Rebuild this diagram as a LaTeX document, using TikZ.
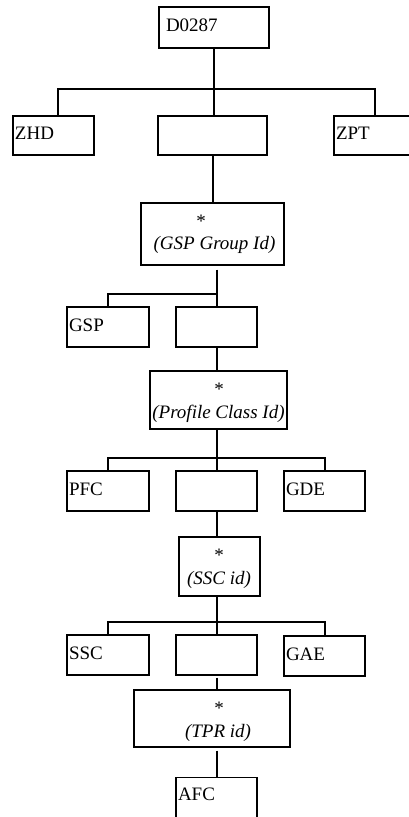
\documentclass[tikz,border=0pt]{standalone}
\usepackage{fontspec}
\setmainfont{Liberation Serif}
\begin{document}
\begin{tikzpicture}[
  x=1pt, y=-1pt,
  font=\fontsize{19}{22}\selectfont,
  box/.style={draw, line width=1.2pt, inner xsep=2pt, inner ysep=0pt, text height=12pt, text depth=4pt, align=left, text width=#1, minimum height=40pt},
  txt/.style={inner sep=0pt, anchor=base},
  link/.style={line width=2pt}
]
\useasboundingbox (0,0) rectangle (409,817);
\clip (0,0) rectangle (409,817);
\coordinate (bus1) at (0,89);
\coordinate (bus2) at (0,294);
\coordinate (bus3) at (0,458);
\coordinate (bus4) at (0,622);
\node[box=96pt, inner xsep=7pt, minimum height=41pt] (d0287) at (214,27.5) {D0287};
\node[box=77pt, minimum height=39pt] (zhd) at (53.5,135.5) {ZHD};
\node[box=105pt, minimum height=39pt] (mid1) at (212.5,135.5) {};
\node[box=77pt, minimum height=39pt] (zpt) at (374.5,135.5) {ZPT};
\node[box=139pt, minimum height=62pt] (gspg) at (212.5,234) {};
\node[txt] (gspg-star) at (201,227) {*};
\node[txt] (gspg-id) at (214.5,249) {\textit{(GSP Group Id)}};
\node[box=78pt] (gsp) at (108,327) {GSP};
\node[box=77pt] (mid2) at (216.5,327) {};
\node[box=133pt, minimum height=58pt] (prof) at (218.5,400) {};
\node[txt] (prof-star) at (219,395) {*};
\node[txt] (prof-id) at (218.5,418) {\textit{(Profile Class Id)}};
\node[box=78pt] (pfc) at (108,491) {PFC};
\node[box=77pt] (mid3) at (216.5,491) {};
\node[box=77pt] (gde) at (324.5,491) {GDE};
\node[box=77pt, minimum height=59pt] (sscid) at (219.5,566.5) {};
\node[txt] (sscid-star) at (219,561) {*};
\node[txt] (sscid-id) at (219,584) {\textit{(SSC id)}};
\node[box=78pt] (ssc) at (108,655) {SSC};
\node[box=77pt] (mid4) at (216.5,655) {};
\node[box=77pt] (gae) at (324.5,656) {GAE};
\node[box=152pt, minimum height=57pt] (tpr) at (212,718.5) {};
\node[txt] (tpr-star) at (219,714) {*};
\node[txt] (tpr-id) at (218,737) {\textit{(TPR id)}};
\node[box=77pt, anchor=north, text height=23pt, text depth=40pt] (afc) at (216.5,777) {AFC};
\draw[link] (d0287) -- (d0287 |- mid1.north);
\draw[link] ([xshift=4.5pt]zhd.north) |- (bus1 -| zpt.north) -- (zpt.north);
\draw[link] (mid1) -- (gspg);
\draw[link, shorten <=4pt] (gspg.south -| mid2.north) -- (mid2.north);
\draw[link] (gsp.north) |- (bus2 -| mid2.north);
\draw[link] (mid2.south) -- (mid2.south |- prof.north);
\draw[link] (prof.south -| mid3.north) -- (mid3.north);
\draw[link] (pfc.north) |- (bus3 -| gde.north) -- (gde.north);
\draw[link] (mid3.south) -- (mid3.south |- sscid.north);
\draw[link] (sscid.south -| mid4.north) -- (mid4.north);
\draw[link] (ssc.north) |- (bus4 -| gae.north) -- (gae.north);
\draw[link, shorten <=2pt] (mid4.south) -- (mid4.south |- tpr.north);
\draw[link, shorten <=3pt] (tpr.south -| afc.north) -- (afc.north);
\end{tikzpicture}
\end{document}
